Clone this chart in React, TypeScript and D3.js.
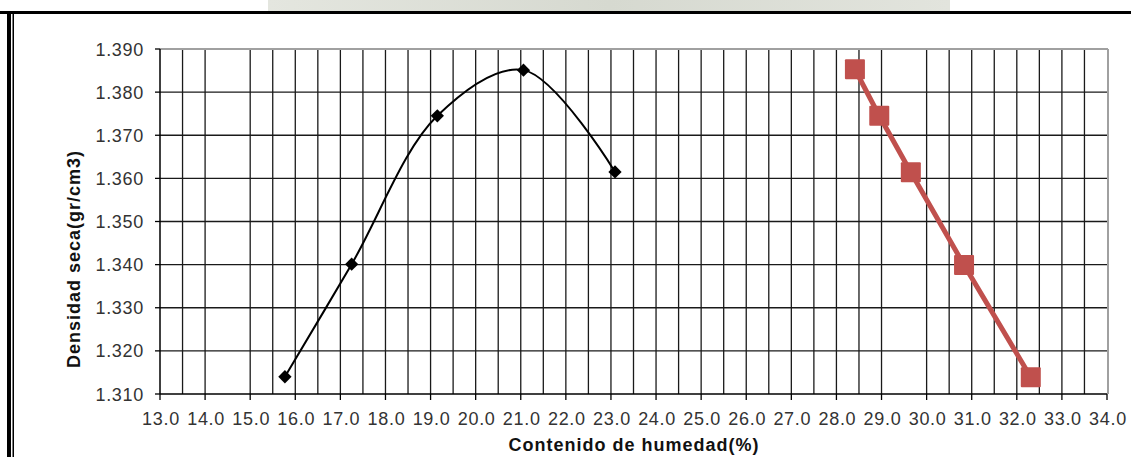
import React from "react";
import * as d3 from "d3";

// puntos del ensayo proctor
const humedad = [15.77, 17.25, 19.15, 21.06, 23.09];
const densidad = [1.314, 1.3401, 1.3745, 1.3851, 1.3615];

// curva de saturacion (cuadrados rojos)
const humedadSat = [28.41, 28.95, 29.65, 30.83, 32.31];
const densidadSat = [1.3853, 1.3745, 1.3614, 1.3399, 1.3139];

const xTicks = d3.range(13, 34.001, 1);
const yTicks = [1.31, 1.32, 1.33, 1.34, 1.35, 1.36, 1.37, 1.38, 1.39];
// lineas verticales de la grilla (cada 0.5, faltan dos en el original)
const xGrid = d3.range(13.5, 34, 0.5).filter((v) => v !== 14.5 && v !== 29.5);

const W = 1131;
const H = 457;
const font = "'Liberation Sans', Arial, sans-serif";

export default function App() {
  const x = d3.scaleLinear().domain([13, 34]).range([160, 1107]);
  const y = d3.scaleLinear().domain([1.31, 1.39]).range([394, 49]);

  const pts = humedad.map((h, i) => [x(h), y(densidad[i])] as [number, number]);
  const satPts = humedadSat.map((h, i) => [x(h), y(densidadSat[i])] as [number, number]);

  const smooth = d3.line().curve(d3.curveCatmullRom.alpha(0.5))(pts) || "";
  const straight = d3.line()(satPts) || "";
  const diamond = d3.symbol().type(d3.symbolSquare).size(88)() || "";

  const [x0, x1] = x.range();
  const [y0, y1] = y.range();

  return (
    <svg
      width={W}
      height={H}
      style={{ position: "absolute", left: 0, top: 0, background: "#fff" }}
    >
      {/* marco del documento */}
      <defs>
        <linearGradient id="marca" x1="0" x2="1" y1="0" y2="0">
          <stop offset="0" stopColor="#e4e6df" />
          <stop offset="0.5" stopColor="#d6d9d0" />
          <stop offset="1" stopColor="#e2e4dd" />
        </linearGradient>
      </defs>
      <rect x={268} y={0} width={682} height={11} fill="url(#marca)" />
      <rect x={0} y={11} width={W} height={3} fill="#000" />
      <rect x={7} y={11} width={4} height={H} fill="#000" />
      <rect x={12.5} y={13} width={1.5} height={H} fill="#000" />

      {/* grilla */}
      {yTicks.slice(1, -1).map((t) => (
        <line key={"h" + t} x1={x0} x2={x1} y1={y(t)} y2={y(t)} stroke="#1a1a1a" strokeWidth={1.4} />
      ))}
      {xGrid.map((t) => (
        <line key={"v" + t} x1={x(t)} x2={x(t)} y1={y1} y2={y0} stroke="#1a1a1a" strokeWidth={1.3} />
      ))}
      {/* borde del area */}
      <line x1={x0} x2={x1 + 1} y1={y1} y2={y1} stroke="#a0a0a0" strokeWidth={2} />
      <line x1={x1 + 1} x2={x1 + 1} y1={y1} y2={y0} stroke="#a0a0a0" strokeWidth={2} />

      {/* ejes */}
      <line x1={x0} x2={x0} y1={y1} y2={y0} stroke="#000" strokeWidth={1.5} />
      <line x1={x0} x2={x1} y1={y0} y2={y0} stroke="#000" strokeWidth={1.5} />
      {yTicks.map((t) => (
        <g key={"yt" + t}>
          <line x1={x0 - 5} x2={x0} y1={y(t)} y2={y(t)} stroke="#000" strokeWidth={1.3} />
          <text
            x={x0 - 16}
            y={y(t) + 6.5}
            textAnchor="end"
            fontFamily={font}
            fontSize={18}
            letterSpacing={0.7}
            fill="#333"
          >
            {d3.format(".3f")(t)}
          </text>
        </g>
      ))}
      {xTicks.map((t) => (
        <g key={"xt" + t}>
          <line x1={x(t)} x2={x(t)} y1={y0} y2={y0 + 6} stroke="#000" strokeWidth={1.3} />
          <text
            x={x(t) + 1}
            y={425}
            textAnchor="middle"
            fontFamily={font}
            fontSize={18}
            letterSpacing={0.7}
            fill="#333"
          >
            {d3.format(".1f")(t)}
          </text>
        </g>
      ))}

      {/* titulos */}
      <text
        x={634}
        y={451}
        textAnchor="middle"
        fontFamily={font}
        fontSize={18}
        fontWeight="bold"
        letterSpacing={1}
        fill="#111"
      >
        Contenido de humedad(%)
      </text>
      <text
        transform="translate(80,259) rotate(-90)"
        textAnchor="middle"
        fontFamily={font}
        fontSize={18}
        fontWeight="bold"
        letterSpacing={1}
        fill="#111"
      >
        Densidad seca(gr/cm3)
      </text>

      {/* serie roja */}
      <path d={straight} fill="none" stroke="#c0504d" strokeWidth={5} strokeLinejoin="round" />
      {satPts.map(([px, py], i) => (
        <rect key={"s" + i} x={px - 10} y={py - 10} width={20} height={20} fill="#c0504d" rx={1} />
      ))}

      {/* serie negra */}
      <path d={smooth} fill="none" stroke="#000" strokeWidth={2} />
      {pts.map(([px, py], i) => (
        <path key={"d" + i} d={diamond} transform={`translate(${px},${py}) rotate(45)`} fill="#000" />
      ))}
    </svg>
  );
}
